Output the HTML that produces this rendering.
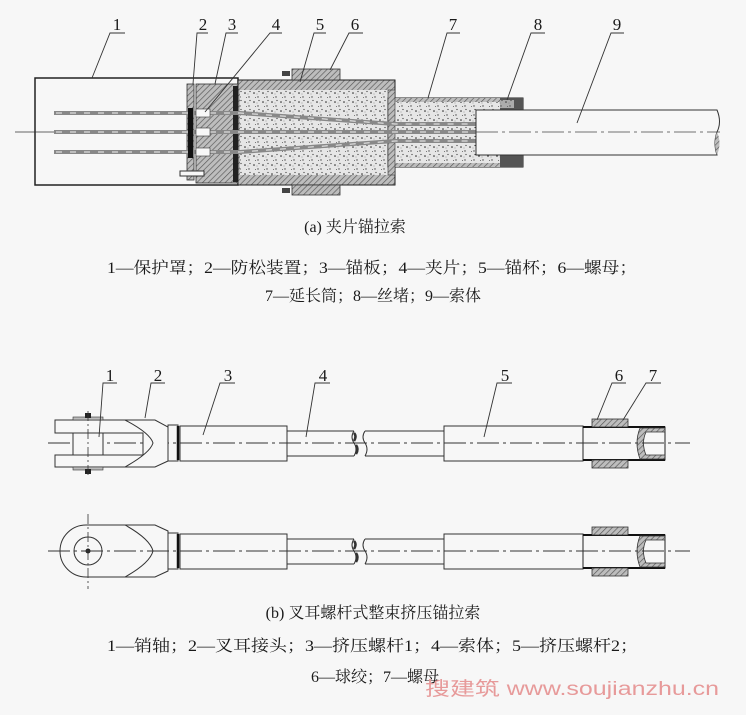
<!DOCTYPE html>
<html><head><meta charset="utf-8"><style>
html,body{margin:0;padding:0;background:#f7f7f7;}
svg{display:block;}
text{font-family:"Liberation Serif","Noto Serif CJK SC","Noto Sans CJK SC",serif;fill:#1a1a1a;}
text.wm{font-family:"Liberation Sans","Noto Sans CJK SC",sans-serif;fill:#e79a9a;}
</style></head><body>
<svg width="746" height="715" viewBox="0 0 746 715" xmlns="http://www.w3.org/2000/svg">
<defs>
<pattern id="sp" width="9" height="9" patternUnits="userSpaceOnUse">
<rect width="9" height="9" fill="#e6e6e6"/>
<circle cx="2" cy="3" r="0.8" fill="#222"/><circle cx="6" cy="7" r="0.7" fill="#444"/><circle cx="7" cy="1.5" r="0.6" fill="#333"/><circle cx="3.5" cy="7.5" r="0.5" fill="#555"/><circle cx="5" cy="4" r="0.4" fill="#444"/>
</pattern>
<pattern id="ht" width="4" height="4" patternUnits="userSpaceOnUse" patternTransform="rotate(45)">
<rect width="4" height="4" fill="#bdbdbd"/><line x1="0" y1="0" x2="0" y2="4" stroke="#555" stroke-width="1.3"/>
</pattern>
<g id="rod">
<rect x="168" y="-18" width="10" height="36" fill="#f7f7f7" stroke="#333"/>
<line x1="178" y1="-17" x2="178" y2="17" stroke="#111" stroke-width="2.5"/>
<rect x="180" y="-17" width="107" height="35" fill="#f7f7f7" stroke="#333"/>
<path d="M287,-12 H354 M287,13 H354 M365,-12 H444 M365,13 H444" stroke="#333" fill="none"/>
<path d="M354,-12 q-4,6 0,12 q4,6 0,13" fill="none" stroke="#333"/>
<path d="M365,-12 q-4,6 0,12 q4,6 0,13" fill="none" stroke="#333"/>
<path d="M354,-10 q3,3 0,8 M356,2 q3,4 0,9" stroke="#333" stroke-width="2.5" fill="none"/>
<rect x="444" y="-17" width="139" height="35" fill="#f7f7f7" stroke="#333"/>
<rect x="583" y="-16" width="82" height="33" fill="#f7f7f7" stroke="#222"/>
<line x1="583" y1="-16" x2="665" y2="-16" stroke="#111" stroke-width="2"/>
<line x1="583" y1="17" x2="665" y2="17" stroke="#111" stroke-width="2"/>
<path d="M640,-15 H665 V-11 H646 Q641,0 646,12 H665 V16 H640 Q634,0 640,-15Z" fill="url(#ht)" stroke="#333" stroke-width="0.8"/>
<rect x="592" y="-24" width="36" height="8" fill="url(#ht)" stroke="#333" stroke-width="0.8"/>
<rect x="592" y="17" width="36" height="8" fill="url(#ht)" stroke="#333" stroke-width="0.8"/>
<line x1="48" y1="0" x2="690" y2="0" stroke="#333" stroke-width="0.9" stroke-dasharray="22,4,3,4"/>
</g>
</defs>

<rect x="35" y="78" width="203" height="107" fill="#f7f7f7" stroke="#222" stroke-width="1.5"/>
<line x1="15" y1="132" x2="54" y2="132" stroke="#333" stroke-width="0.8"/>
<rect x="238" y="80" width="157" height="105" fill="url(#ht)" stroke="#222"/>
<rect x="240" y="90" width="148" height="85" fill="url(#sp)"/>
<rect x="292" y="69" width="48" height="11" fill="url(#ht)" stroke="#333" stroke-width="0.8"/>
<rect x="292" y="185" width="48" height="10" fill="url(#ht)" stroke="#333" stroke-width="0.8"/>
<rect x="282" y="71" width="8" height="5" fill="#444"/><rect x="282" y="188" width="8" height="5" fill="#444"/>
<rect x="388" y="98" width="135" height="69" fill="url(#sp)" stroke="#222"/>
<rect x="395" y="98" width="105" height="4" fill="url(#ht)"/>
<rect x="395" y="163" width="105" height="4" fill="url(#ht)"/>
<rect x="388" y="90" width="7" height="85" fill="url(#ht)" stroke="#333" stroke-width="0.6"/>
<rect x="500" y="98" width="23" height="12" fill="#555"/>
<rect x="500" y="155" width="23" height="12" fill="#555"/>
<rect x="500" y="100" width="14" height="8" fill="url(#sp)" opacity="0.6"/>
<rect x="187" y="84" width="7" height="96" fill="url(#ht)" stroke="#333" stroke-width="0.8"/>
<rect x="196" y="84" width="42" height="99" fill="url(#ht)" stroke="#333" stroke-width="0.8"/>
<rect x="233" y="86" width="5" height="96" fill="#222"/>
<rect x="180" y="171" width="24" height="5" fill="#f7f7f7" stroke="#333"/>
<g stroke="#888" stroke-width="4" fill="none">
<path d="M54,113 H240 L395,124 H476"/>
<path d="M54,132 H476"/>
<path d="M54,152 H240 L395,141 H476"/>
</g>
<g stroke="#f2f2f2" stroke-width="1" fill="none" stroke-dasharray="6,8">
<path d="M56,113 H240 L395,124 H476"/><path d="M56,132 H476"/><path d="M56,152 H240 L395,141 H476"/>
</g>
<rect x="188" y="108" width="5" height="50" fill="#111"/>
<rect x="196" y="109" width="14" height="8" fill="#f7f7f7" stroke="#333" stroke-width="0.6"/>
<rect x="196" y="128" width="14" height="8" fill="#f7f7f7" stroke="#333" stroke-width="0.6"/>
<rect x="196" y="148" width="14" height="8" fill="#f7f7f7" stroke="#333" stroke-width="0.6"/>
<path d="M476,110 H717 Q722,122 717,132 Q713,143 717,155 H476 Z" fill="#f7f7f7" stroke="#333"/>
<path d="M717,132 Q713,143 717,155 Q722,143 717,132Z" fill="url(#ht)"/>
<line x1="476" y1="132" x2="720" y2="132" stroke="#444" stroke-width="0.8" stroke-dasharray="22,4,3,4"/>

<g font-size="17" text-anchor="middle">
<text x="117" y="30">1</text><text x="203" y="30">2</text><text x="232" y="30">3</text><text x="276" y="30">4</text>
<text x="320" y="30">5</text><text x="355" y="30">6</text><text x="453" y="30">7</text><text x="538" y="30">8</text><text x="617" y="30">9</text>
</g>
<g stroke="#333" stroke-width="0.9" fill="none">
<path d="M125,33 H110 L92,78"/><path d="M208,33 H197 L193,84"/><path d="M238,33 H226 L215,84"/>
<path d="M282,33 H270 L205,112"/><path d="M326,33 H314 L300,82"/><path d="M363,33 H349 L330,70"/>
<path d="M460,33 H447 L428,98"/><path d="M545,33 H531 L507,100"/><path d="M624,33 H611 L577,123"/>
</g>

<text x="355" y="232" font-size="16" text-anchor="middle">(a) 夹片锚拉索</text>
<text x="107" y="273" font-size="16" textLength="530" lengthAdjust="spacingAndGlyphs">1—保护罩；2—防松装置；3—锚板；4—夹片；5—锚杯；6—螺母；</text>
<text x="373" y="301" font-size="16" text-anchor="middle">7—延长筒；8—丝堵；9—索体</text>

<g transform="translate(0,443)">
<use href="#rod"/>
<path d="M55,-23 H155 L168,-16 V18 L155,24 H55 V12 H143 V-10 H55 Z" fill="#f7f7f7" stroke="#333"/>
<path d="M125,-23 Q150,-10 153,0 Q150,10 125,24" fill="none" stroke="#333"/>
<rect x="73" y="-10" width="30" height="22" fill="#f7f7f7" stroke="#333"/>
<rect x="73" y="-26" width="30" height="3" fill="#bbb" stroke="#333" stroke-width="0.6"/>
<rect x="73" y="24" width="30" height="3" fill="#bbb" stroke="#333" stroke-width="0.6"/>
<rect x="85" y="-30" width="6" height="5" fill="#222"/><rect x="85" y="26" width="6" height="5" fill="#222"/>
<line x1="88" y1="-32" x2="88" y2="34" stroke="#333" stroke-width="0.8" stroke-dasharray="10,3,2,3"/>
</g>
<g transform="translate(0,551)">
<use href="#rod"/>
<path d="M86,-26 H155 L168,-20 V20 L155,26 H86 A26,26 0 0 1 86,-26Z" fill="#f7f7f7" stroke="#333"/>
<path d="M125,-26 Q150,-12 153,0 Q150,12 125,26" fill="none" stroke="#333"/>
<circle cx="88" cy="0" r="14" fill="#f7f7f7" stroke="#333"/>
<circle cx="88" cy="0" r="2.5" fill="#222"/>
<line x1="48" y1="0" x2="180" y2="0" stroke="#333" stroke-width="0.9" stroke-dasharray="22,4,3,4"/>
<line x1="88" y1="-37" x2="88" y2="38" stroke="#333" stroke-width="0.8" stroke-dasharray="10,3,2,3"/>
</g>

<g font-size="17" text-anchor="middle">
<text x="110" y="381">1</text><text x="158" y="381">2</text><text x="228" y="381">3</text><text x="323" y="381">4</text>
<text x="505" y="381">5</text><text x="619" y="381">6</text><text x="653" y="381">7</text>
</g>
<g stroke="#333" stroke-width="0.9" fill="none">
<path d="M117,383 H103 L99,437"/><path d="M165,383 H151 L145,418"/><path d="M235,383 H220 L203,435"/>
<path d="M330,383 H315 L306,437"/><path d="M512,383 H497 L484,437"/><path d="M626,383 H612 L597,420"/><path d="M661,383 H646 L623,420"/>
</g>

<text x="373" y="618" font-size="16" text-anchor="middle">(b) 叉耳螺杆式整束挤压锚拉索</text>
<text x="107" y="651" font-size="16" textLength="531" lengthAdjust="spacingAndGlyphs">1—销轴；2—叉耳接头；3—挤压螺杆1；4—索体；5—挤压螺杆2；</text>
<text x="375" y="682" font-size="16" text-anchor="middle">6—球绞；7—螺母</text>
<text class="wm" x="425" y="695" font-size="19" textLength="294" lengthAdjust="spacingAndGlyphs">搜建筑 www.soujianzhu.cn</text>
</svg>
</body></html>
